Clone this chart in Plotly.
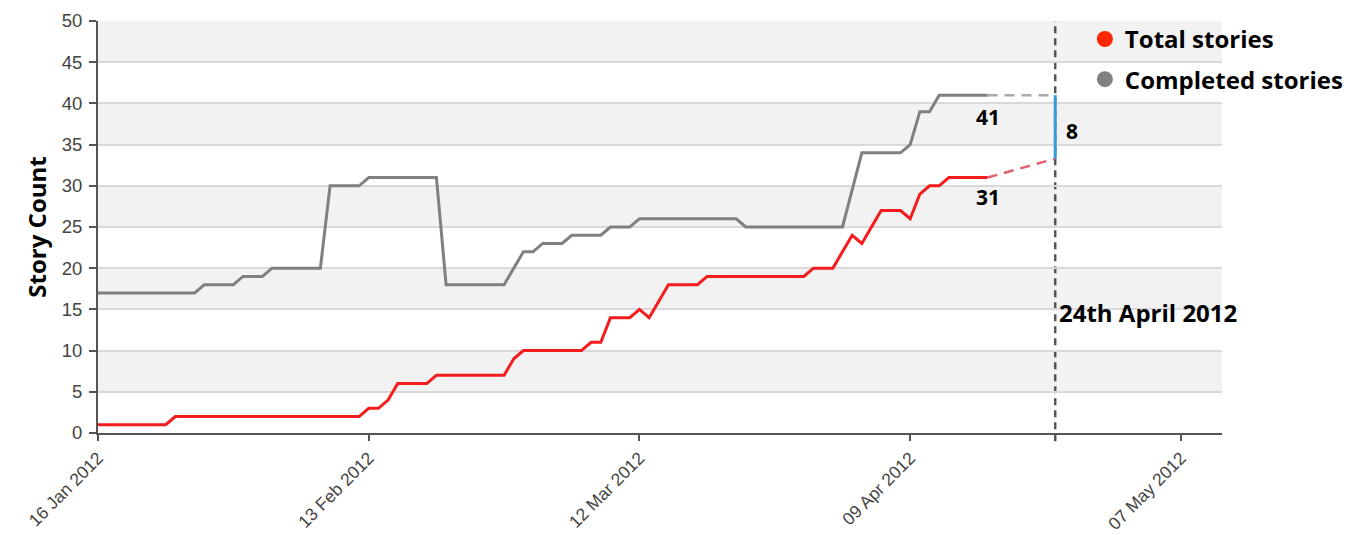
import plotly.graph_objects as go

# ---- data ----
completed_dates = ["2012-01-16", "2012-01-26", "2012-01-27", "2012-01-30", "2012-01-31",
                   "2012-02-02", "2012-02-03", "2012-02-08", "2012-02-09", "2012-02-12",
                   "2012-02-13", "2012-02-20", "2012-02-21", "2012-02-27", "2012-02-29",
                   "2012-03-01", "2012-03-02", "2012-03-04", "2012-03-05", "2012-03-08",
                   "2012-03-09", "2012-03-11", "2012-03-12", "2012-03-22", "2012-03-23",
                   "2012-04-02", "2012-04-04", "2012-04-08", "2012-04-09", "2012-04-10",
                   "2012-04-11", "2012-04-12", "2012-04-17"]
completed_values = [17, 17, 18, 18, 19, 19, 20, 20, 30, 30, 31, 31, 18, 18, 22,
                    22, 23, 23, 24, 24, 25, 25, 26, 26, 25, 25, 34, 34, 35, 39,
                    39, 41, 41]

total_dates = ["2012-01-16", "2012-01-23", "2012-01-24", "2012-02-12", "2012-02-13",
               "2012-02-14", "2012-02-15", "2012-02-16", "2012-02-19", "2012-02-20",
               "2012-02-27", "2012-02-28", "2012-02-29", "2012-03-06", "2012-03-07",
               "2012-03-08", "2012-03-09", "2012-03-11", "2012-03-12", "2012-03-13",
               "2012-03-15", "2012-03-18", "2012-03-19", "2012-03-29", "2012-03-30",
               "2012-04-01", "2012-04-03", "2012-04-04", "2012-04-06", "2012-04-08",
               "2012-04-09", "2012-04-10", "2012-04-11", "2012-04-12", "2012-04-13",
               "2012-04-17"]
total_values = [1, 1, 2, 2, 3, 3, 4, 6, 6, 7, 7, 9, 10, 10, 11, 11, 14, 14, 15, 14,
                18, 18, 19, 19, 20, 20, 24, 23, 27, 27, 26, 29, 30, 30, 31, 31]

last_date = "2012-04-17"
target_date = "2012-04-24"
proj_completed = 41
proj_total = 33.3
gap_label = "8"
target_label = "24th April 2012"
completed_label = "41"
total_label = "31"

x_ticks = ["2012-01-16", "2012-02-13", "2012-03-12", "2012-04-09", "2012-05-07"]
x_tick_text = ["16 Jan 2012", "13 Feb 2012", "12 Mar 2012", "09 Apr 2012", "07 May 2012"]
y_ticks = [0, 5, 10, 15, 20, 25, 30, 35, 40, 45, 50]

RED = "#f41c1c"
GREY = "#808080"
BOLD = dict(family="Open Sans", size=24, color="#000000", weight="bold")
NUM = dict(family="Open Sans", size=21, color="#000000", weight="bold")
XTICKFONT = dict(family="Liberation Sans, Arial", size=17.5, color="#444444")
YTICKFONT = dict(family="Liberation Sans, Arial", size=18.5, color="#444444")

fig = go.Figure()

# projections
fig.add_trace(go.Scatter(x=[last_date, target_date], y=[proj_completed, proj_completed],
                         mode="lines", line=dict(color="#aaaaaa", width=2.5, dash="10px,7px"),
                         showlegend=False, hoverinfo="skip"))
fig.add_trace(go.Scatter(x=[last_date, target_date], y=[total_values[-1], proj_total],
                         mode="lines", line=dict(color="#e0606e", width=2.5, dash="10px,7px"),
                         showlegend=False, hoverinfo="skip"))
fig.add_trace(go.Scatter(x=[target_date, target_date], y=[proj_completed, proj_total],
                         mode="lines", line=dict(color="#3a9ad9", width=3),
                         showlegend=False, hoverinfo="skip"))

# main lines
fig.add_trace(go.Scatter(x=completed_dates, y=completed_values, mode="lines",
                         line=dict(color=GREY, width=3), showlegend=False,
                         name="Completed stories"))
fig.add_trace(go.Scatter(x=total_dates, y=total_values, mode="lines",
                         line=dict(color=RED, width=3), showlegend=False,
                         name="Total stories"))

# legend entries
fig.add_trace(go.Scatter(x=[None], y=[None], mode="markers", name="Total stories",
                         marker=dict(color="#ff2600", size=18), legendgroup="a"))
fig.add_trace(go.Scatter(x=[None], y=[None], mode="markers", name="Completed stories",
                         marker=dict(color=GREY, size=18), legendgroup="b"))

# background bands
for i in range(0, len(y_ticks) - 1):
    if i % 2 == 1:
        fig.add_shape(type="rect", xref="paper", yref="y", x0=0, x1=1,
                      y0=y_ticks[i], y1=y_ticks[i + 1], fillcolor="#f2f2f2",
                      line_width=0, layer="below")

# target vertical line
fig.add_shape(type="line", xref="x", yref="paper", x0=target_date, x1=target_date,
              y0=-0.02, y1=1, layer="between",
              line=dict(color="#555555", width=2.5, dash="7px,5px"))

fig.add_annotation(x=last_date, y=proj_completed, text=completed_label, showarrow=False,
                   yanchor="top", yshift=-6, font=NUM)
fig.add_annotation(x=last_date, y=total_values[-1], text=total_label, showarrow=False,
                   yanchor="top", yshift=-3, font=NUM)
fig.add_annotation(x=target_date, y=(proj_completed + proj_total) / 2, text=gap_label,
                   showarrow=False, xanchor="left", xshift=9, yshift=-4, font=NUM)
fig.add_annotation(x=target_date, yref="paper", y=0.248, text=target_label,
                   showarrow=False, xanchor="left", xshift=2, font=BOLD)

# page body adds an 8px offset, so the figure is 8px smaller than the window
fig.update_layout(
    width=1352, height=527,
    margin=dict(l=90, r=138, t=9, b=102),
    plot_bgcolor="#ffffff", paper_bgcolor="#ffffff",
    showlegend=True,
    legend=dict(x=0.878, y=1.01, xanchor="left", yanchor="top",
                bgcolor="rgba(0,0,0,0)", font=BOLD, tracegroupgap=6,
                itemsizing="trace"),
    xaxis=dict(type="date", range=["2012-01-16", "2012-05-11 06:00"], automargin=False,
               tickvals=x_ticks, ticktext=x_tick_text, tickangle=-45,
               tickfont=XTICKFONT,
               showgrid=False, zeroline=False, showline=True, linecolor="#555555",
               linewidth=2, ticks="outside", ticklen=6, tickcolor="#555555", tickwidth=1.5),
    yaxis=dict(range=[0, 50], tickvals=y_ticks, automargin=False,
               tickfont=YTICKFONT,
               showgrid=True, gridcolor="#d9d9d9", gridwidth=1.5, zeroline=False,
               showline=True, linecolor="#555555", linewidth=2, ticks="outside",
               ticklen=7, tickcolor="#555555", tickwidth=1.5, ticklabelstandoff=3,
               title=dict(text="Story Count", font=BOLD, standoff=8)),
)

fig.write_html("out.html")
